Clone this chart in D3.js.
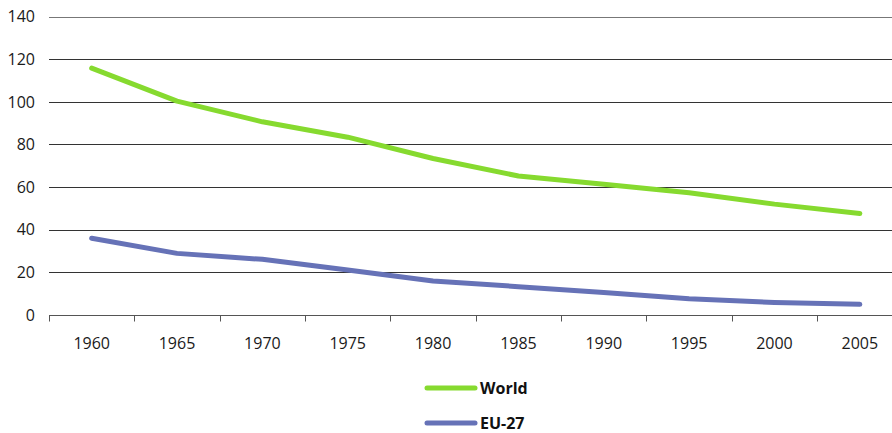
<!DOCTYPE html>
<html><head><meta charset="utf-8">
<script src="https://cdn.jsdelivr.net/npm/d3@7"></script>
<style>
body{margin:0;background:#fff;}
svg{display:block;font-family:"Open Sans","Noto Sans",sans-serif;}
</style></head>
<body><svg id="c" width="892" height="433"></svg>
<script>
const years = ["1960","1965","1970","1975","1980","1985","1990","1995","2000","2005"];
const world = [115.8, 100.3, 90.6, 83.4, 73.4, 65.2, 61.3, 57.3, 52.0, 47.6];
const eu27 = [36.0, 28.9, 26.1, 21.1, 15.9, 13.3, 10.5, 7.6, 5.9, 5.0];
const yTicks = [0, 20, 40, 60, 80, 100, 120, 140];
const seriesNames = ["World", "EU-27"];
const seriesColors = ["#86da2f", "#6672b7"];

const svg = d3.select("#c");
const x = d3.scaleBand().domain(years).range([49, 902.5]);
const y = d3.scaleLinear().domain([0, 140]).range([315, 16.5]);

// gridlines
svg.append("g").selectAll("line").data(yTicks.filter(d => d > 0)).join("line")
  .attr("x1", 49).attr("x2", 892)
  .attr("y1", d => Math.round(y(d)) + 0.5).attr("y2", d => Math.round(y(d)) + 0.5)
  .attr("stroke", d => d === 140 ? "#777" : "#333").attr("stroke-width", 1);

// y labels
svg.append("g").selectAll("text").data(yTicks).join("text")
  .attr("x", 35).attr("y", d => y(d)).attr("dy", "0.36em")
  .attr("text-anchor", "end").attr("font-size", 16).attr("fill", "#1a1a1a")
  .text(d => d);

// x axis line + ticks at band boundaries
const base = Math.round(y(0)) + 0.5;
svg.append("line").attr("x1", 49).attr("x2", 892).attr("y1", base).attr("y2", base)
  .attr("stroke", "#555").attr("stroke-width", 1);
const bounds = years.map(d => x(d)).concat([x(years[years.length-1]) + x.bandwidth()]);
svg.append("g").selectAll("line").data(bounds).join("line")
  .attr("x1", d => Math.round(d) + 0.5).attr("x2", d => Math.round(d) + 0.5)
  .attr("y1", base).attr("y2", base + 6)
  .attr("stroke", "#555").attr("stroke-width", 1);
svg.append("g").selectAll("text").data(years).join("text")
  .attr("x", d => x(d) + x.bandwidth() / 2).attr("y", 343).attr("dy", "0.36em")
  .attr("text-anchor", "middle").attr("font-size", 16).attr("fill", "#1a1a1a")
  .text(d => d);

// lines
const line = d3.line().x((d, i) => x(years[i]) + x.bandwidth() / 2).y(d => y(d));
[world, eu27].forEach((s, k) => {
  svg.append("path").datum(s).attr("d", line)
    .attr("fill", "none").attr("stroke", seriesColors[k]).attr("stroke-width", 5)
    .attr("stroke-linecap", "round").attr("stroke-linejoin", "round");
});

// legend
seriesNames.forEach((n, k) => {
  const ly = 388 + k * 35;
  svg.append("line").attr("x1", 427).attr("x2", 475).attr("y1", ly).attr("y2", ly)
    .attr("stroke", seriesColors[k]).attr("stroke-width", 5).attr("stroke-linecap", "round");
  svg.append("text").attr("x", 480).attr("y", ly).attr("dy", "0.36em")
    .attr("font-size", 16).attr("font-weight", "bold").attr("fill", "#111").text(n);
});
</script></body></html>
